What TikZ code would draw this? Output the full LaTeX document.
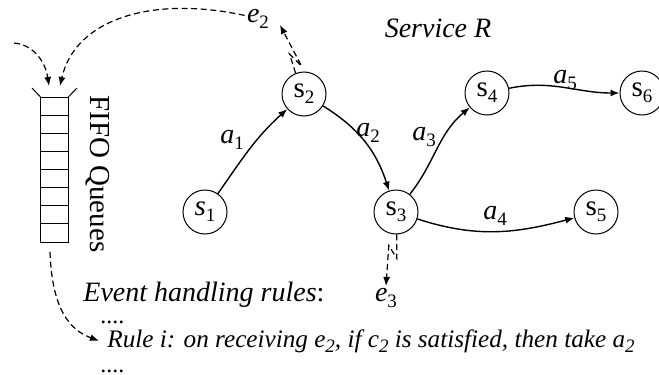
\documentclass[tikz,border=0pt]{standalone}
\usepackage{fontspec}
\setmainfont{Liberation Serif}
\usetikzlibrary{arrows.meta}

% lowered index, a bit larger than \textsubscript
\newcommand{\lowidx}[1]{\raisebox{-0.45ex}{\fontsize{9.5}{10}\selectfont #1}}

\begin{document}
\begin{tikzpicture}[x=0.5pt,y=-0.5pt,
        every node/.style={font=\fontsize{14}{16}\selectfont},
        evt/.style={dashed,dash pattern=on 3pt off 1.8pt,line width=0.6pt,-{Latex[length=4.5pt,width=3.5pt]}}]
        \useasboundingbox (0,0) rectangle (659,375);

        \begin{scope}[every node/.style={circle,draw,line width=0.5pt,minimum size=22pt,inner sep=0pt,font=\fontsize{14.5}{16}\selectfont}]
            \node (s1) at (205,212) {\textit{s}\lowidx{1}};
            \node (s2) at (304,94) {s\lowidx{2}};
            \node (s3) at (396,212) {s\lowidx{3}};
            \node (s4) at (487,93) {s\lowidx{4}};
            \node (s5) at (596,212) {s\lowidx{5}};
            \node (s6) at (642,93) {s\lowidx{6}};
        \end{scope}

        % labels of actions and events
        \node (a1) at (232,140) {\textit{a}\lowidx{1}};
        \node (a2) at (368,133) {\textit{a}\lowidx{2}};
        \node (a3) at (424,137) {\textit{a}\lowidx{3}};
        \node (a4) at (495,216) {\textit{a}\lowidx{4}};
        \node (a5) at (565,80) {\textit{a}\lowidx{5}};
        \node[inner sep=1pt] (e2) at (258,19) {\textit{e}\lowidx{2}};
        \node[inner sep=1pt] (e3) at (386,298) {\textit{e}\lowidx{3}};
        \node (title) at (438,28) {\textit{Service R}};

        % the queue
        \draw[line width=0.5pt] (40.5,97) rectangle (68.3,242);
        \foreach \k in {1,...,7}
            \draw[line width=0.5pt] (40.5,97+18.125*\k) -- (68.3,97+18.125*\k);
        \draw[line width=0.5pt] (40.5,97) -- (32,88);
        \draw[line width=0.5pt] (68.3,97) -- (77,88);
        \node[rotate=-90,font=\fontsize{14.5}{16}\selectfont] (fifo) at (98,174) {FIFO Queues};
        \coordinate (qsrc) at (14,43);
        \coordinate (qin1) at (49,86);
        \coordinate (qin2) at (60,86);
        \coordinate (qout) at (50,252);

        % rules
        \node[anchor=base west,inner sep=0pt] (rules) at (83,301) {\textit{Event handling rules}:};
        \node[anchor=base west,inner sep=0pt,font=\fontsize{12}{12}\selectfont] (dots1) at (100,323) {....};
        \node[anchor=base west,inner sep=4pt,font=\fontsize{12.6}{15}\selectfont\itshape] (rulei) at (99,347)
            {Rule i: on receiving e\lowidx{2}, if c\lowidx{2} is satisfied, then take a\lowidx{2}};
        \node[anchor=base west,inner sep=0pt,font=\fontsize{12}{12}\selectfont] (dots2) at (100,372) {....};

        \begin{scope}[>={Latex[length=4.5pt,width=3.5pt]},line width=0.7pt]
            \draw [->] (s1) to[out=55,in=222] (s2);
            \draw [->] (s2) to[out=-32,in=108] (s3);
            \draw [->] (s3) to[out=52,in=220] (s4);
            \draw [->] (s4) to[out=12,in=180] (s6);
            \draw [->] (s3) to[out=-18,in=195] (s5);
        \end{scope}

        % emitted events
        \draw[evt] (s2.112) -- ++(-6,-19) -- ++(12,12) -- (280,25);
        \draw[evt] (s3.272) -- ++(0,24) -- ++(-8,-13) -- (e3.north);

        % into and out of the queue
        \draw[evt] (qsrc) .. controls (36,45) and (46,65) .. (qin1);
        \draw[evt] (e2.165) .. controls (150,-5) and (75,20) .. (qin2);
        \draw[evt] (qout) .. controls (52,310) and (70,330) .. (rulei.west);
\end{tikzpicture}
\end{document}
